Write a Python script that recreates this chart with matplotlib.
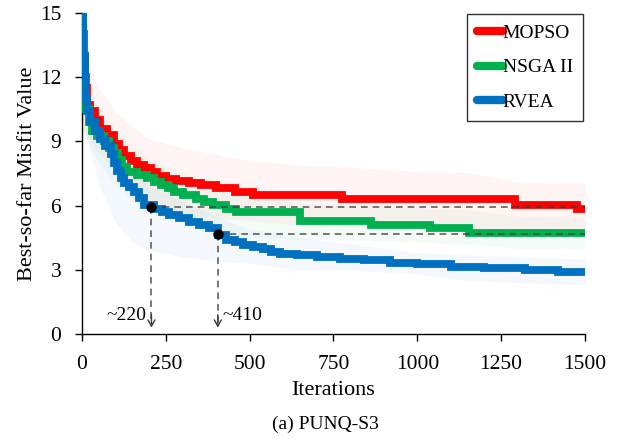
#######################################################
# Data
#######################################################

series_names = ['MOPSO', 'NSGA II', 'RVEA']
series_colors = ['#FF0000', '#00B050', '#0070C0']

# best-so-far misfit, step changes (iteration, value)
mopso_iters = [0, 4, 8, 15, 25, 40, 55, 75, 95, 110, 125, 145, 165, 185, 205, 225, 250, 280, 320,
               355, 400, 455, 510, 775, 1290, 1475, 1500]
mopso_vals = [15, 13, 11.5, 10.7, 10.4, 10.0, 9.6, 9.3, 8.9, 8.6, 8.3, 8.1, 7.9, 7.75, 7.55, 7.4, 7.25,
              7.15, 7.05, 6.95, 6.8, 6.65, 6.5, 6.33, 6.05, 5.85, 5.85]

nsga_iters = [0, 3, 6, 12, 20, 30, 45, 65, 80, 95, 108, 120, 135, 165, 195, 215, 235, 255, 275, 300,
              340, 365, 390, 430, 460, 650, 862, 1038, 1155, 1500]
nsga_vals = [15, 13, 11.5, 10.5, 9.9, 9.5, 9.25, 9.0, 8.7, 8.45, 8.15, 7.8, 7.55, 7.45, 7.3, 7.1, 6.95,
             6.8, 6.65, 6.5, 6.3, 6.15, 6.05, 5.85, 5.7, 5.3, 5.1, 4.97, 4.72, 4.72]

rvea_iters = [0, 3, 6, 9, 12, 15, 25, 40, 55, 70, 85, 95, 105, 115, 125, 140, 155, 170, 185, 215,
              240, 260, 290, 320, 350, 380, 405, 430, 455, 480, 510, 540, 565, 590, 640, 700, 770,
              840, 920, 1000, 1100, 1200, 1320, 1420, 1500]
rvea_vals = [15, 14, 13, 12, 11, 10.4, 9.9, 9.5, 9.1, 8.8, 8.4, 8.0, 7.6, 7.3, 7.05, 6.85, 6.65, 6.35,
             6.05, 5.85, 5.7, 5.55, 5.4, 5.25, 5.1, 4.95, 4.65, 4.4, 4.3, 4.15, 4.05, 3.95, 3.85, 3.75,
             3.68, 3.6, 3.52, 3.45, 3.33, 3.25, 3.13, 3.07, 3.0, 2.88, 2.88]

# spread bands (upper / lower edge)
band_iters = [0, 50, 100, 150, 200, 300, 400, 500, 650, 800, 1000, 1150, 1300, 1500]
mopso_hi = [13.5, 11.5, 10.4, 9.7, 9.1, 8.7, 8.4, 8.1, 7.9, 7.8, 7.6, 7.55, 7.1, 7.05]
mopso_lo = [9.5, 8.5, 7.6, 6.6, 6.1, 5.6, 5.4, 5.3, 5.1, 5.0, 5.0, 4.9, 4.8, 4.6]
nsga_hi = [13.0, 10.5, 9.5, 8.8, 8.2, 7.5, 7.0, 6.5, 6.1, 6.0, 5.9, 5.8, 5.5, 5.4]
nsga_lo = [9.5, 8.0, 7.0, 6.3, 5.8, 5.2, 4.9, 4.6, 4.4, 4.4, 4.3, 4.2, 4.0, 4.0]
rvea_hi = [13.0, 10.0, 8.8, 7.8, 6.9, 6.2, 5.5, 4.9, 4.5, 4.2, 3.8, 3.7, 3.6, 3.5]
rvea_lo = [10.0, 7.0, 5.2, 4.3, 3.9, 3.6, 3.4, 3.3, 3.0, 3.0, 2.8, 2.5, 2.4, 2.3]

# marked points on the RVEA curve
mark_iters = [207, 405]
mark_vals = [5.92, 4.68]
mark_labels = ['~220', '~410']

x_ticks = [0, 250, 500, 750, 1000, 1250, 1500]
y_ticks = [0, 3, 6, 9, 12, 15]


#######################################################
# Imports
#######################################################

import matplotlib
matplotlib.use('Agg')
import matplotlib.pyplot as plt

plt.rcParams['font.family'] = ['Liberation Serif', 'DejaVu Serif']


#######################################################
# Figure
#######################################################

fig = plt.figure(figsize=(6.29, 4.41), dpi=100)
ax = fig.add_axes([0.1304, 0.2426, 0.7996, 0.7279])

lines = [(mopso_iters, mopso_vals, mopso_lo, mopso_hi),
         (nsga_iters, nsga_vals, nsga_lo, nsga_hi),
         (rvea_iters, rvea_vals, rvea_lo, rvea_hi)]

# faint spread bands first
for (it, v, lo, hi), c in zip(lines, series_colors):
    ax.fill_between(band_iters, lo, hi, color=c, alpha=0.045, lw=0, zorder=1)

for (it, v, lo, hi), c, name in zip(lines, series_colors, series_names):
    ax.plot(it, v, drawstyle='steps-post', color=c, lw=5.6, solid_capstyle='butt',
            solid_joinstyle='miter', label=name, zorder=3)

# dashed guides + markers + arrows
dash_col = '#3a3a3a'
for x, y in zip(mark_iters, mark_vals):
    ax.plot([x, 1500], [y, y], ls=(0, (4, 3)), color=dash_col, lw=1.2, alpha=0.8, zorder=4)
    ax.plot([x, x], [y, 0.5], ls=(0, (4, 3)), color=dash_col, lw=1.2, alpha=0.8, zorder=4)
    ax.annotate('', xy=(x, 0.3), xytext=(x, 0.9),
                arrowprops=dict(arrowstyle='->,head_length=0.45,head_width=0.25',
                                color=dash_col, lw=1.0, shrinkA=0, shrinkB=0), zorder=4)
    ax.plot(x, y, 'o', color='black', ms=6.5, zorder=5)

ax.text(mark_iters[0] - 15, 0.85, mark_labels[0], ha='right', va='center', fontsize=14)
ax.text(mark_iters[1] + 15, 0.85, mark_labels[1], ha='left', va='center', fontsize=14)

ax.set_xlim(0, 1500)
ax.set_ylim(0, 15)
ax.set_xticks(x_ticks)
ax.set_yticks(y_ticks)
ax.tick_params(direction='out', length=5, width=1, labelsize=15.5, pad=10)
ax.tick_params(axis='y', pad=10)
ax.spines['top'].set_visible(False)
ax.spines['right'].set_visible(False)
ax.spines['left'].set_linewidth(1)
ax.spines['bottom'].set_linewidth(1)

ax.set_xlabel('Iterations', fontsize=16, labelpad=5)
ax.set_ylabel('Best-so-far Misfit Value', fontsize=16, labelpad=2)

leg = ax.legend(loc='upper right', bbox_to_anchor=(0.997, 0.997), fontsize=14,
                frameon=True, fancybox=False, edgecolor='black', handlelength=1.3,
                handletextpad=0.0, labelspacing=0.85, borderpad=0.55, borderaxespad=0)
leg.get_frame().set_linewidth(1)
for h in leg.get_lines():
    h.set_linewidth(6)
    h.set_solid_capstyle('round')

fig.text(0.517, 1 - 424 / 441, '(a) PUNQ-S3', ha='center', va='center', fontsize=14)

fig.savefig('out.png', dpi=100)
